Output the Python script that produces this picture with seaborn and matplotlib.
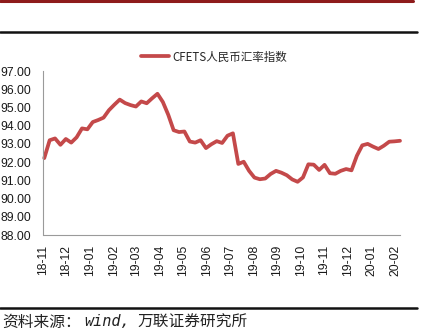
import matplotlib
matplotlib.use("Agg")
import matplotlib.pyplot as plt
import matplotlib.dates as mdates
from matplotlib.lines import Line2D
import seaborn as sns
import pandas as pd

# Weekly CFETS RMB index readings (Fridays)
start_date = "2018-11-02"
n_weeks = 67
index_values = [
    92.22, 93.20, 93.30, 92.95, 93.27, 93.07, 93.36, 93.85, 93.80, 94.20,
    94.31, 94.44, 94.85, 95.15, 95.43, 95.24, 95.13, 95.05, 95.33, 95.23,
    95.50, 95.75, 95.30, 94.60, 93.75, 93.65, 93.68, 93.13, 93.07, 93.20,
    92.77, 92.98, 93.15, 93.05, 93.45, 93.58, 91.90, 92.02, 91.52, 91.15,
    91.06, 91.10, 91.35, 91.52, 91.42, 91.28, 91.05, 90.92, 91.16, 91.88,
    91.86, 91.57, 91.85, 91.39, 91.36, 91.52, 91.62, 91.55, 92.35, 92.92,
    93.00, 92.85, 92.72, 92.90, 93.12, 93.14, 93.17,
]
series_name = "CFETS人民币汇率指数"
y_ticks = [88, 89, 90, 91, 92, 93, 94, 95, 96, 97]
source_label = "资料来源："
source_name = "wind,"
source_org = "万联证券研究所"

df = pd.DataFrame({
    "date": pd.date_range(start_date, periods=n_weeks, freq="7D"),
    "value": index_values,
})

sns.set_style("white")
plt.rcParams["font.family"] = ["Liberation Sans", "Noto Sans CJK SC", "DejaVu Sans"]

W, H = 427, 334
fig = plt.figure(figsize=(W / 100, H / 100), dpi=100)
ax = fig.add_axes([43.5 / W, 1 - 235 / H, (400 - 43.5) / W, (235 - 71) / H])

line_color = "#C4494A"
sns.lineplot(data=df, x="date", y="value", ax=ax, color=line_color,
             linewidth=2.7, legend=False)
for ln in ax.lines:
    ln.set_clip_on(False)
    ln.set_solid_joinstyle("round")

ax.set_xlim(pd.Timestamp("2018-11-01"), pd.Timestamp("2020-02-07"))
ax.set_ylim(88, 97)
ax.set_yticks(y_ticks)
ax.set_yticklabels([f"{v:.2f}" for v in y_ticks])
ax.xaxis.set_major_locator(mdates.MonthLocator())
ax.xaxis.set_major_formatter(mdates.DateFormatter("%y-%m"))
ax.set_xlabel("")
ax.set_ylabel("")

axis_color = "#9A9A9A"
for side in ("top", "right"):
    ax.spines[side].set_visible(False)
for side in ("left", "bottom"):
    ax.spines[side].set_color(axis_color)
    ax.spines[side].set_linewidth(0.8)

ax.tick_params(axis="y", direction="in", length=2.5, width=0.7, color=axis_color,
               labelsize=8.7, labelcolor="#1a1a1a", pad=9)
ax.tick_params(axis="x", direction="in", length=2.5, width=0.7, color=axis_color,
               labelsize=8.7, labelcolor="#1a1a1a", pad=7, labelrotation=90)

handle = Line2D([], [], color=line_color, linewidth=2.7)
ax.legend([handle], [series_name], loc="center",
          bbox_to_anchor=(214 / W, 1 - 57 / H), bbox_transform=fig.transFigure,
          frameon=False, handlelength=2.45, handletextpad=0.25,
          prop={"family": ["Noto Sans CJK SC", "DejaVu Sans"], "size": 8.3})

# Page rules above and below the chart
fig.add_artist(Line2D([0, 413 / W], [1 - 1 / H, 1 - 1 / H], color="#8E1B1B",
                      linewidth=2.2, transform=fig.transFigure))
fig.add_artist(Line2D([0, 417 / W], [1 - 32 / H, 1 - 32 / H], color="#111111",
                      linewidth=1.8, transform=fig.transFigure))
fig.add_artist(Line2D([0, 417 / W], [1 - 308 / H, 1 - 308 / H], color="#111111",
                      linewidth=1.8, transform=fig.transFigure))

# Source note
note_y = 1 - 322 / H
cjk = ["Noto Sans CJK SC", "DejaVu Sans"]
fig.text(2 / W, note_y, source_label, ha="left", va="center", fontsize=11.3,
         color="#222222", family=cjk)
fig.text(84 / W, note_y, source_name, ha="left", va="center", fontsize=11,
         color="#222222", family="DejaVu Sans Mono", style="oblique")
fig.text(137 / W, note_y, source_org, ha="left", va="center", fontsize=11.3,
         color="#222222", family=cjk)

fig.savefig("out.png", dpi=100)
